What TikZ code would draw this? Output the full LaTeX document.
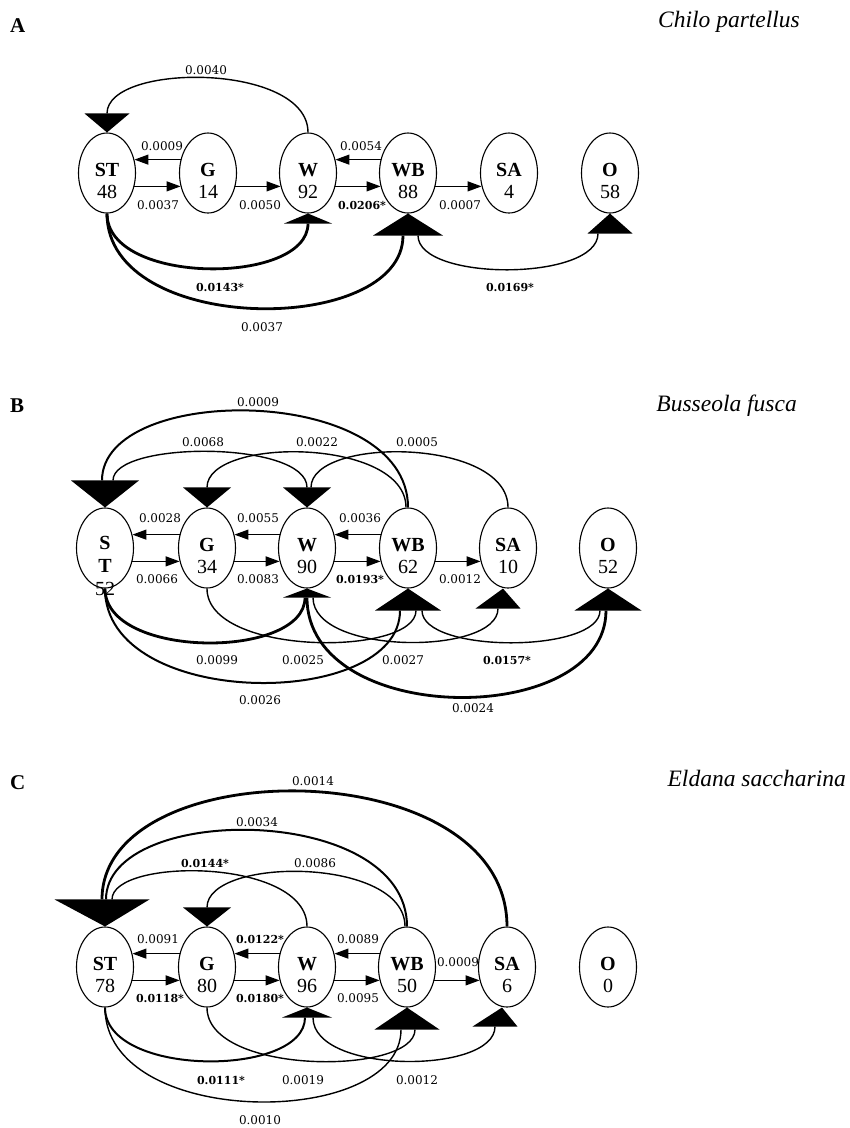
\documentclass[tikz,border=0pt]{standalone}
\usepackage{fontspec}
\setmainfont{Liberation Serif}
\newfontfamily\lblfont{DejaVu Serif}
\usetikzlibrary{shapes.geometric,arrows.meta,calc}
\newcommand\arrtri[3]{\fill[black] #1 -- ($#2+(-#3,0)$) -- ($#2+(#3,0)$) -- cycle;}
\begin{document}
\begin{tikzpicture}[x=1pt,y=-1pt,
  stage/.style={draw, fill=white, ellipse, minimum width=57pt, minimum height=80pt, inner sep=0pt, line width=1.1pt},
  stagetxt/.style={align=center, font=\fontsize{20}{22}\selectfont, inner sep=0pt},
  lbl/.style={font=\lblfont\fontsize{12}{13}\selectfont, inner sep=0pt},
  lblb/.style={font=\lblfont\bfseries\fontsize{11}{12}\selectfont, inner sep=0pt},
  harr/.style={-{Triangle[length=14pt,width=10pt]}, line width=1.2pt},
  arcl/.style={line width=1.4pt},
  arcm/.style={line width=2pt},
  arck/.style={line width=2.8pt},
  ttl/.style={font=\itshape\fontsize{23.5}{25}\selectfont, anchor=base east, inner sep=0pt},
  plet/.style={font=\bfseries\fontsize{21}{23}\selectfont, anchor=base west, inner sep=0pt}
]
\useasboundingbox (0,0) rectangle (850,1128);

% ================= Panel A =================
\node[plet] (pA) at (10,32) {A};
\node[ttl] (tA) at (800,27) {Chilo partellus};

\node[stage] (aST) at (107,173) {};
\node[stage] (aG)  at (208,173) {};
\node[stage] (aW)  at (308,173) {};
\node[stage] (aWB) at (408,173) {};
\node[stage] (aSA) at (509,173) {};
\node[stage] (aO)  at (610,173) {};
\node[stagetxt] (aSTt) at (107,181) {\textbf{ST}\\48};
\node[stagetxt] (aGt)  at (208,181) {\textbf{G}\\14};
\node[stagetxt] (aWt)  at (308,181) {\textbf{W}\\92};
\node[stagetxt] (aWBt) at (408,181) {\textbf{WB}\\88};
\node[stagetxt] (aSAt) at (509,181) {\textbf{SA}\\4};
\node[stagetxt] (aOt)  at (610,181) {\textbf{O}\\58};

\coordinate (aSTb) at ($(aST.north)+(0,-19)$);
\coordinate (aWbb) at ($(aW.south)+(0,10)$);
\coordinate (aWBb) at ($(aWB.south)+(0,22)$);
\coordinate (aOb)  at ($(aO.south)+(0,20)$);
\coordinate (aWBr) at ($(aWBb)+(10,0)$);
\coordinate (aOl)  at ($(aOb)+(-12,0)$);
\coordinate (aWBl) at ($(aWBb)+(-5,0)$);

\draw[harr] (aG.154) -- (aST.26);
\draw[harr] (aST.-26) -- (aG.206);
\draw[harr] (aG.-26) -- (aW.206);
\draw[harr] (aWB.154) -- (aW.26);
\draw[harr] (aW.-26) -- (aWB.206);
\draw[harr] (aWB.-26) -- (aSA.206);

\draw[arcl] (aW.north) .. controls +(0,-70) and +(0,-51) .. (aSTb);
\draw[arck] (aST.south) .. controls +(0,72) and +(0,62) .. (aWbb);
\draw[arck] (aST.south) .. controls +(0,123) and +(0,101) .. (aWBl);
\draw[arcl] (aWBr) .. controls +(0,46) and +(0,48) .. (aOl);

\arrtri{(aST.north)}{(aSTb)}{22.5}
\arrtri{(aW.south)}{(aWbb)}{24}
\arrtri{(aWB.south)}{(aWBb)}{35}
\arrtri{(aO.south)}{(aOb)}{22.5}

\node[lbl]  (aL1) at (206,70) {0.0040};
\node[lbl]  (aL2) at (162,146) {0.0009};
\node[lbl]  (aL3) at (158,205) {0.0037};
\node[lbl]  (aL4) at (260,205) {0.0050};
\node[lbl]  (aL5) at (361,146) {0.0054};
\node[lblb] (aL6) at (362,205) {0.0206*};
\node[lbl]  (aL7) at (460,205) {0.0007};
\node[lblb] (aL8) at (220,287) {0.0143*};
\node[lbl]  (aL9) at (262,327) {0.0037};
\node[lblb] (aL10) at (510,287) {0.0169*};

% ================= Panel B =================
\node[plet] (pB) at (10,412) {B};
\node[ttl] (tB) at (797,411) {Busseola fusca};

\node[stage] (bST) at (105,548) {};
\node[stage] (bG)  at (207,548) {};
\node[stage] (bW)  at (307,548) {};
\node[stage] (bWB) at (408,548) {};
\node[stage] (bSA) at (508,548) {};
\node[stage] (bO)  at (608,548) {};
\node[stagetxt, font=\fontsize{20}{23}\selectfont] (bSTt) at (105,566) {\textbf{S}\\\textbf{T}\\52};
\node[stagetxt] (bGt)  at (207,556) {\textbf{G}\\34};
\node[stagetxt] (bWt)  at (307,556) {\textbf{W}\\90};
\node[stagetxt] (bWBt) at (408,556) {\textbf{WB}\\62};
\node[stagetxt] (bSAt) at (508,556) {\textbf{SA}\\10};
\node[stagetxt] (bOt)  at (608,556) {\textbf{O}\\52};

\coordinate (bSTb) at ($(bST.north)+(0,-27)$);
\coordinate (bGb)  at ($(bG.north)+(0,-20)$);
\coordinate (bWtb) at ($(bW.north)+(0,-20)$);
\coordinate (bWbb) at ($(bW.south)+(0,9)$);
\coordinate (bWBb) at ($(bWB.south)+(0,22)$);
\coordinate (bSAt) at ($(bSA.south)+(-5,0)$);
\coordinate (bSAb) at ($(bSA.south)+(-10,20)$);
\coordinate (bOb)  at ($(bO.south)+(0,22)$);
\coordinate (bSTbl) at ($(bSTb)+(-3,0)$);
\coordinate (bSTbr) at ($(bSTb)+(8,0)$);
\coordinate (bWtr) at ($(bWtb)+(4,0)$);
\coordinate (bWBn) at ($(bWB.north)+(-2,0)$);
\coordinate (bWbl) at ($(bWbb)+(-2,0)$);
\coordinate (bWbr) at ($(bWbb)+(6,0)$);
\coordinate (bWBl) at ($(bWBb)+(-8,0)$);
\coordinate (bWBr) at ($(bWBb)+(8,0)$);
\coordinate (bWBrr) at ($(bWBb)+(14,0)$);
\coordinate (bOl) at ($(bOb)+(-8,0)$);
\coordinate (bOc) at ($(bOb)+(-2,0)$);

\draw[harr] (bG.154) -- (bST.26);
\draw[harr] (bST.-26) -- (bG.206);
\draw[harr] (bW.154) -- (bG.26);
\draw[harr] (bG.-26) -- (bW.206);
\draw[harr] (bWB.154) -- (bW.26);
\draw[harr] (bW.-26) -- (bWB.206);
\draw[harr] (bWB.-26) -- (bSA.206);

\draw[arcm] (bWB.north) .. controls +(0,-124) and +(0,-98) .. (bSTbl);
\draw[arcl] (bSTbr) .. controls +(0,-40) and +(0,-47) .. (bWtb);
\draw[arcl] (bWBn) .. controls +(0,-70) and +(0,-51) .. (bGb);
\draw[arcl] (bSA.north) .. controls +(0,-70) and +(0,-51) .. (bWtr);

\draw[arck] (bST.south) .. controls +(0,71) and +(0,62) .. (bWbl);
\draw[arcm] (bST.south) .. controls +(0,122) and +(0,100) .. (bWBl);
\draw[arcl] (bG.south) .. controls +(0,68) and +(0,46) .. (bWBr);
\draw[arcl] (bWbr) .. controls +(0,58) and +(0,47) .. (bSAb);
\draw[arcl] (bWBrr) .. controls +(0,43) and +(0,43) .. (bOl);
\draw[arck] (bWbb) .. controls +(0,131) and +(0,118) .. (bOc);

\arrtri{(bST.north)}{(bSTb)}{34}
\arrtri{(bG.north)}{(bGb)}{24}
\arrtri{(bW.north)}{(bWtb)}{24}
\arrtri{(bW.south)}{(bWbb)}{24}
\arrtri{(bWB.south)}{(bWBb)}{33}
\arrtri{(bSAt)}{(bSAb)}{22.5}
\arrtri{(bO.south)}{(bOb)}{33.5}

\node[lbl]  (bL1) at (258,402) {0.0009};
\node[lbl]  (bL2) at (203,442) {0.0068};
\node[lbl]  (bL3) at (317,442) {0.0022};
\node[lbl]  (bL4) at (417,442) {0.0005};
\node[lbl]  (bL5) at (160,518) {0.0028};
\node[lbl]  (bL6) at (157,579) {0.0066};
\node[lbl]  (bL7) at (258,518) {0.0055};
\node[lbl]  (bL8) at (258,579) {0.0083};
\node[lbl]  (bL9) at (360,518) {0.0036};
\node[lblb] (bL10) at (360,579) {0.0193*};
\node[lbl]  (bL11) at (460,579) {0.0012};
\node[lbl]  (bL12) at (217,660) {0.0099};
\node[lbl]  (bL13) at (303,660) {0.0025};
\node[lbl]  (bL14) at (403,660) {0.0027};
\node[lblb] (bL15) at (507,660) {0.0157*};
\node[lbl]  (bL16) at (260,700) {0.0026};
\node[lbl]  (bL17) at (473,708) {0.0024};

% ================= Panel C =================
\node[plet] (pC) at (10,789) {C};
\node[ttl] (tC) at (846,786) {Eldana saccharina};

\node[stage] (cST) at (105,967) {};
\node[stage] (cG)  at (207,967) {};
\node[stage] (cW)  at (307,967) {};
\node[stage] (cWB) at (407,967) {};
\node[stage] (cSA) at (507,967) {};
\node[stage] (cO)  at (608,967) {};
\node[stagetxt] (cSTt) at (105,975) {\textbf{ST}\\78};
\node[stagetxt] (cGt)  at (207,975) {\textbf{G}\\80};
\node[stagetxt] (cWt)  at (307,975) {\textbf{W}\\96};
\node[stagetxt] (cWBt) at (407,975) {\textbf{WB}\\50};
\node[stagetxt] (cSAt) at (507,975) {\textbf{SA}\\6};
\node[stagetxt] (cOt)  at (608,975) {\textbf{O}\\0};

\coordinate (cSTb) at ($(cST.north)+(-3,-27)$);
\coordinate (cGb)  at ($(cG.north)+(0,-19)$);
\coordinate (cWbb) at ($(cW.south)+(0,10)$);
\coordinate (cWBb) at ($(cWB.south)+(0,22)$);
\coordinate (cSAt) at ($(cSA.south)+(-5,0)$);
\coordinate (cSAb) at ($(cSA.south)+(-12,19)$);
\coordinate (cSTb1) at ($(cSTb)+(0,0)$);
\coordinate (cSTb2) at ($(cSTb)+(4,0)$);
\coordinate (cSTb3) at ($(cSTb)+(10,0)$);
\coordinate (cWBn) at ($(cWB.north)+(-2,0)$);
\coordinate (cWbl) at ($(cWbb)+(-2,0)$);
\coordinate (cWbr) at ($(cWbb)+(6,0)$);
\coordinate (cWBl) at ($(cWBb)+(-6,0)$);
\coordinate (cWBr) at ($(cWBb)+(8,0)$);

\draw[harr] (cG.154) -- (cST.26);
\draw[harr] (cST.-26) -- (cG.206);
\draw[harr] (cW.154) -- (cG.26);
\draw[harr] (cG.-26) -- (cW.206);
\draw[harr] (cWB.154) -- (cW.26);
\draw[harr] (cW.-26) -- (cWB.206);
\draw[harr] (cWB.-26) -- (cSA.206);

\draw[arck] (cSA.north) .. controls +(0,-176) and +(0,-149) .. (cSTb1);
\draw[arcm] (cWB.north) .. controls +(0,-124) and +(0,-97) .. (cSTb2);
\draw[arcl] (cW.north) .. controls +(0,-69) and +(0,-42) .. (cSTb3);
\draw[arcl] (cWBn) .. controls +(0,-70) and +(0,-51) .. (cGb);

\draw[arcm] (cST.south) .. controls +(0,70) and +(0,60) .. (cWbl);
\draw[arcl] (cST.south) .. controls +(0,122) and +(0,100) .. (cWBl);
\draw[arcl] (cG.south) .. controls +(0,68) and +(0,46) .. (cWBr);
\draw[arcl] (cWbr) .. controls +(0,57) and +(0,48) .. (cSAb);

\arrtri{(cST.north)}{(cSTb)}{47.5}
\arrtri{(cG.north)}{(cGb)}{24}
\arrtri{(cW.south)}{(cWbb)}{25}
\arrtri{(cWB.south)}{(cWBb)}{32.5}
\arrtri{(cSAt)}{(cSAb)}{22.5}

\node[lbl]  (cL1) at (313,781) {0.0014};
\node[lbl]  (cL2) at (257,822) {0.0034};
\node[lblb] (cL3) at (205,863) {0.0144*};
\node[lbl]  (cL4) at (315,863) {0.0086};
\node[lbl]  (cL5) at (158,939) {0.0091};
\node[lblb] (cL6) at (160,998) {0.0118*};
\node[lblb] (cL7) at (260,939) {0.0122*};
\node[lblb] (cL8) at (260,998) {0.0180*};
\node[lbl]  (cL9) at (358,939) {0.0089};
\node[lbl]  (cL10) at (358,998) {0.0095};
\node[lbl]  (cL11) at (458,962) {0.0009};
\node[lblb] (cL12) at (221,1080) {0.0111*};
\node[lbl]  (cL13) at (303,1080) {0.0019};
\node[lbl]  (cL14) at (417,1080) {0.0012};
\node[lbl]  (cL15) at (260,1120) {0.0010};
\end{tikzpicture}
\end{document}
